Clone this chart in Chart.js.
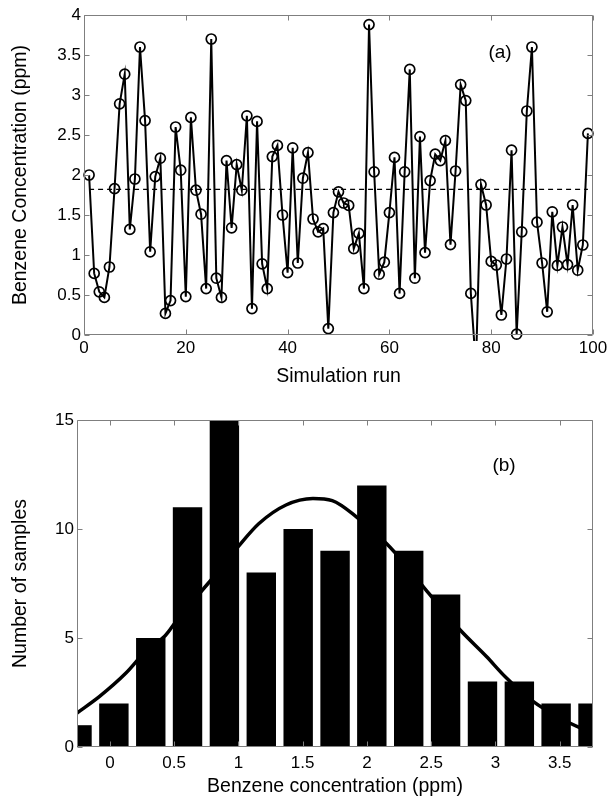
<!DOCTYPE html>
<html><head><meta charset="utf-8">
<script src="https://cdn.jsdelivr.net/npm/chart.js@4.4.0/dist/chart.umd.min.js"></script>
<style>
html,body{margin:0;padding:0;background:#fff;}
#wrap{position:relative;width:613px;height:798px;background:#fff;}
canvas{position:absolute;left:0;}
#c1{top:0;} #c2{top:400px;}
</style></head><body>
<div id="wrap"><canvas id="c1" width="613" height="400"></canvas><canvas id="c2" width="613" height="398"></canvas></div>
<script>
// ---- Panel (a): simulation runs ----
const runs = [1,2,3,4,5,6,7,8,9,10,11,12,13,14,15,16,17,18,19,20,21,22,23,24,25,26,27,28,29,30,31,32,33,34,35,36,37,38,39,40,41,42,43,44,45,46,47,48,49,50,51,52,53,54,55,56,57,58,59,60,61,62,63,64,65,66,67,68,69,70,71,72,73,74,75,76,77,78,79,80,81,82,83,84,85,86,87,88,89,90,91,92,93,94,95,96,97,98,99];
const concentration = [2.00,0.77,0.54,0.47,0.85,1.83,2.89,3.26,1.32,1.95,
  3.60,2.68,1.04,1.98,2.21,0.27,0.43,2.60,2.06,0.48,
  2.72,1.81,1.51,0.58,3.70,0.71,0.47,2.18,1.34,2.13,
  1.81,2.74,0.33,2.67,0.89,0.58,2.23,2.37,1.50,0.78,
  2.34,0.90,1.96,2.28,1.45,1.29,1.33,0.08,1.53,1.79,
  1.65,1.62,1.08,1.27,0.58,3.88,2.04,0.76,0.91,1.53,
  2.22,0.52,2.04,3.32,0.71,2.48,1.03,1.93,2.26,2.18,
  2.43,1.13,2.05,3.13,2.93,0.52,-0.40,1.88,1.625,0.92,
  0.875,0.25,0.95,2.31,0.01,1.29,2.80,3.60,1.41,0.90,
  0.29,1.54,0.87,1.35,0.88,1.625,0.81,1.125,2.52];
const meanLevel = 1.82;
const meanSpan = [1, 99];
const runTicks = [0,20,40,60,80,100];
const concTicks = [0,0.5,1,1.5,2,2.5,3,3.5,4];

// ---- Panel (b): histogram ----
const binCenters = [-0.256,0.031,0.318,0.604,0.891,1.178,1.465,1.752,2.038,2.325,2.612,2.899,3.186,3.472,3.759];
const binCounts = [1,2,5,11,15,8,10,9,12,9,7,3,3,2,2];
const fitX = [-0.256,-0.08,0.125,0.28,0.43,0.52,0.72,0.85,1.0,1.16,1.37,1.58,1.73,1.92,2.15,2.31,2.46,2.72,2.93,3.08,3.29,3.5,3.66,3.759];
const fitY = [1.56,2.32,3.39,4.4,5.1,5.8,7.2,8.1,9.2,10.25,11.1,11.4,11.3,10.55,9.35,8.3,7.2,5.4,4.15,3.2,2.1,1.33,0.88,0.66];
const histXTicks = [0,0.5,1,1.5,2,2.5,3,3.5];
const histYTicks = [0,5,10,15];

Chart.defaults.font.family = "'Liberation Sans', Arial, sans-serif";
Chart.defaults.color = '#000';

const boxPlugin = {
  id: 'matlabBox',
  afterDatasetsDraw(chart, args, opts) {
    const {ctx, chartArea: a, scales: {x, y}} = chart;
    ctx.save();
    ctx.strokeStyle = '#7f7f7f';
    ctx.lineWidth = 1;
    const L = Math.round(a.left) + 0.5, R = Math.round(a.right) - 0.5;
    const T = Math.round(a.top) + 0.5, B = Math.round(a.bottom) - 0.5;
    ctx.beginPath();
    ctx.rect(L, T, R - L, B - T);
    x.ticks.forEach(t => {
      const p = Math.round(x.getPixelForValue(t.value)) + 0.5;
      ctx.moveTo(p, B); ctx.lineTo(p, B - 5);
      ctx.moveTo(p, T); ctx.lineTo(p, T + 5);
    });
    y.ticks.forEach(t => {
      const p = Math.round(y.getPixelForValue(t.value)) + 0.5;
      ctx.moveTo(L, p); ctx.lineTo(L + 5, p);
      ctx.moveTo(R, p); ctx.lineTo(R - 5, p);
    });
    ctx.stroke();
    if (opts.label) {
      ctx.fillStyle = '#000';
      ctx.font = "19px 'Liberation Sans', Arial, sans-serif";
      ctx.textAlign = 'center';
      ctx.textBaseline = 'middle';
      ctx.fillText(opts.label, opts.lx, opts.ly);
    }
    ctx.restore();
  }
};

const fmt = v => String(v);

new Chart(document.getElementById('c1'), {
  type: 'line',
  data: {
    datasets: [
      {
        data: runs.map((r, i) => ({x: r, y: concentration[i]})),
        borderColor: '#000', borderWidth: 2, tension: 0,
        pointRadius: 5, pointBorderWidth: 1.7,
        pointBackgroundColor: 'rgba(0,0,0,0)', pointBorderColor: '#000',
        clip: {left: 8, right: 8, top: 8, bottom: 6}
      },
      {
        data: meanSpan.map(r => ({x: r, y: meanLevel})),
        borderColor: '#000', borderWidth: 1.2, borderDash: [5, 4], pointRadius: 0
      }
    ]
  },
  options: {
    responsive: false, animation: false, devicePixelRatio: 1,
    layout: {padding: {top: 15, right: 20, left: 0, bottom: 0}},
    plugins: {legend: {display: false}, tooltip: {enabled: false},
      matlabBox: {label: '(a)', lx: 500, ly: 53}},
    scales: {
      x: {
        type: 'linear', min: 0, max: 100,
        grid: {display: false, drawTicks: false}, border: {display: false},
        afterBuildTicks: s => { s.ticks = runTicks.map(v => ({value: v})); },
        afterFit: s => { s.height = 65; },
        ticks: {padding: 3, font: {size: 17}, maxRotation: 0, autoSkip: false, callback: fmt},
        title: {display: true, text: 'Simulation run', font: {size: 19.5}, padding: {top: 0, bottom: 12}}
      },
      y: {
        type: 'linear', min: 0, max: 4,
        grid: {display: false, drawTicks: false}, border: {display: false},
        afterBuildTicks: s => { s.ticks = concTicks.map(v => ({value: v})); },
        afterFit: s => { s.width = 84; },
        ticks: {padding: 3, font: {size: 17}, autoSkip: false, callback: fmt},
        title: {display: true, text: 'Benzene Concentration (ppm)', font: {size: 19.5}, padding: {top: 9, bottom: 0}}
      }
    }
  },
  plugins: [boxPlugin]
});

new Chart(document.getElementById('c2'), {
  type: 'bar',
  data: {
    datasets: [
      {
        type: 'line', order: 0,
        data: fitX.map((v, i) => ({x: v, y: fitY[i]})),
        borderColor: '#000', borderWidth: 3.5, pointRadius: 0,
        cubicInterpolationMode: 'monotone'
      },
      {
        type: 'bar', order: 1,
        data: binCenters.map((c, i) => ({x: c, y: binCounts[i]})),
        backgroundColor: '#000', borderWidth: 0,
        barPercentage: 0.8, categoryPercentage: 1
      }
    ]
  },
  options: {
    responsive: false, animation: false, devicePixelRatio: 1,
    layout: {padding: {top: 20, right: 20, left: 0, bottom: 0}},
    plugins: {legend: {display: false}, tooltip: {enabled: false},
      matlabBox: {label: '(b)', lx: 504, ly: 66}},
    scales: {
      x: {
        type: 'linear', offset: false, min: binCenters[0], max: binCenters[binCenters.length - 1],
        grid: {display: false, drawTicks: false, offset: false}, border: {display: false},
        afterBuildTicks: s => { s.ticks = histXTicks.map(v => ({value: v})); },
        afterFit: s => { s.height = 51; },
        ticks: {padding: 6, font: {size: 17}, maxRotation: 0, autoSkip: false, callback: fmt},
        title: {display: true, text: 'Benzene concentration (ppm)', font: {size: 19.5}, padding: {top: 0, bottom: 0}}
      },
      y: {
        type: 'linear', min: 0, max: 15,
        grid: {display: false, drawTicks: false}, border: {display: false},
        afterBuildTicks: s => { s.ticks = histYTicks.map(v => ({value: v})); },
        afterFit: s => { s.width = 77; },
        ticks: {padding: 3, font: {size: 17}, autoSkip: false, callback: fmt},
        title: {display: true, text: 'Number of samples', font: {size: 19.5}, padding: {top: 9, bottom: 0}}
      }
    }
  },
  plugins: [boxPlugin]
});
</script>
</body></html>
